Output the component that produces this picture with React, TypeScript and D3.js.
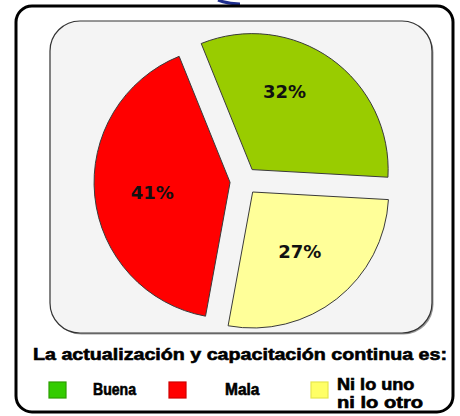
import * as d3 from "d3";

// legend / category order
const categories = ["Buena", "Mala", "Ni lo uno ni lo otro"];
const percents = [32, 41, 27];
const sliceColors = ["#99cc00", "#ff0000", "#ffff99"];
const legendColors = ["#33cc00", "#ff0000", "#ffff66"];
const legendBorders = ["#2b9e00", "#d00000", "#e6e64d"];
const legendLines = [["Buena"], ["Mala"], ["Ni lo uno", "ni lo otro"]];
// clockwise order of the slices, starting at the top
const sliceOrder = ["Buena", "Ni lo uno ni lo otro", "Mala"];
const legendTitle = "La actualización y capacitación continua es:";

const W = 460;
const H = 416;

export default function App() {
    const cx = 244;
    const cy = 181;
    const radius = 136;
    const pull = 14;

    const data = categories.map((c, i) => ({ name: c, value: percents[i], color: sliceColors[i] }));

    const pie = d3.pie<any>()
        .value(d => d.value)
        .sort((a, b) => sliceOrder.indexOf(a.name) - sliceOrder.indexOf(b.name))
        .startAngle(-22 * Math.PI / 180)
        .endAngle(338 * Math.PI / 180);

    const arc = d3.arc<any>().innerRadius(0).outerRadius(radius);
    const labelArc = d3.arc<any>().innerRadius(radius * 0.56).outerRadius(radius * 0.56);
    // excel-ish label nudges
    const labelNudge: Record<string, [number, number]> = {
        "Buena": [-12, -16],
        "Mala": [-2, 2],
        "Ni lo uno ni lo otro": [0, 0],
    };

    const arcs = pie(data);

    const legendX = d3.scaleOrdinal<string, number>().domain(categories).range([49, 169, 311]);
    const legendTextX = d3.scaleOrdinal<string, number>().domain(categories).range([93, 225, 337]);
    // rough widths of the legend words in the picture
    const lineWidth = (s: string) => s.length * 8.6;

    return (
        <svg width={W} height={H} style={{ position: "absolute", left: 0, top: 0, background: "#fff" }}
            fontFamily="'Liberation Sans', Arial, sans-serif">
            {/* clipped title remnant */}
            <path d="M218,0 Q228,4 240,4" fill="none" stroke="#1f2f8f" strokeWidth={3} />
            <rect x={16} y={6} width={437} height={406} rx={16} fill="#fff" stroke="#000" strokeWidth={3} />
            <rect x={51.5} y={22.5} width={382} height={312} rx={30} fill="#9a9a9a" />
            <rect x={50} y={21} width={382} height={312} rx={30} fill="#f4f4f4" stroke="#333" strokeWidth={1.2} />

            <g transform={`translate(${cx},${cy})`}>
                {arcs.map((a, i) => {
                    const mid = (a.startAngle + a.endAngle) / 2;
                    const dx = Math.sin(mid) * pull;
                    const dy = -Math.cos(mid) * pull;
                    const [lx, ly] = labelArc.centroid(a);
                    const n = labelNudge[a.data.name];
                    return (
                        <g key={i} transform={`translate(${dx},${dy})`}>
                            <path d={arc(a) as string} fill={a.data.color} stroke="#3a3a3a" strokeWidth={1} strokeLinejoin="round" />
                            <text x={lx + n[0]} y={ly + n[1]} textAnchor="middle" dominantBaseline="central"
                                fontSize={18} fontWeight="bold" fill="#111"
                                fontFamily="'DejaVu Sans', sans-serif">
                                {`${a.data.value}%`}
                            </text>
                        </g>
                    );
                })}
            </g>

            <text x={33} y={360} fontSize={17} fontWeight="bold" fill="#000" stroke="#000" strokeWidth={0.6}
                textLength={414} lengthAdjust="spacingAndGlyphs">
                {legendTitle}
            </text>

            {categories.map((c, i) => {
                const lines = legendLines[i];
                return (
                    <g key={c}>
                        <rect x={legendX(c)} y={382} width={17} height={16} fill={legendColors[i]}
                            stroke={legendBorders[i]} strokeWidth={1.2} />
                        {lines.map((ln, j) => (
                            <text key={j} x={legendTextX(c)}
                                y={lines.length === 1 ? 395 : 390 + j * 18}
                                fontSize={16} fontWeight="bold" fill="#000" stroke="#000" strokeWidth={0.6}
                                textLength={lineWidth(ln)} lengthAdjust="spacingAndGlyphs">
                                {ln}
                            </text>
                        ))}
                    </g>
                );
            })}
        </svg>
    );
}
